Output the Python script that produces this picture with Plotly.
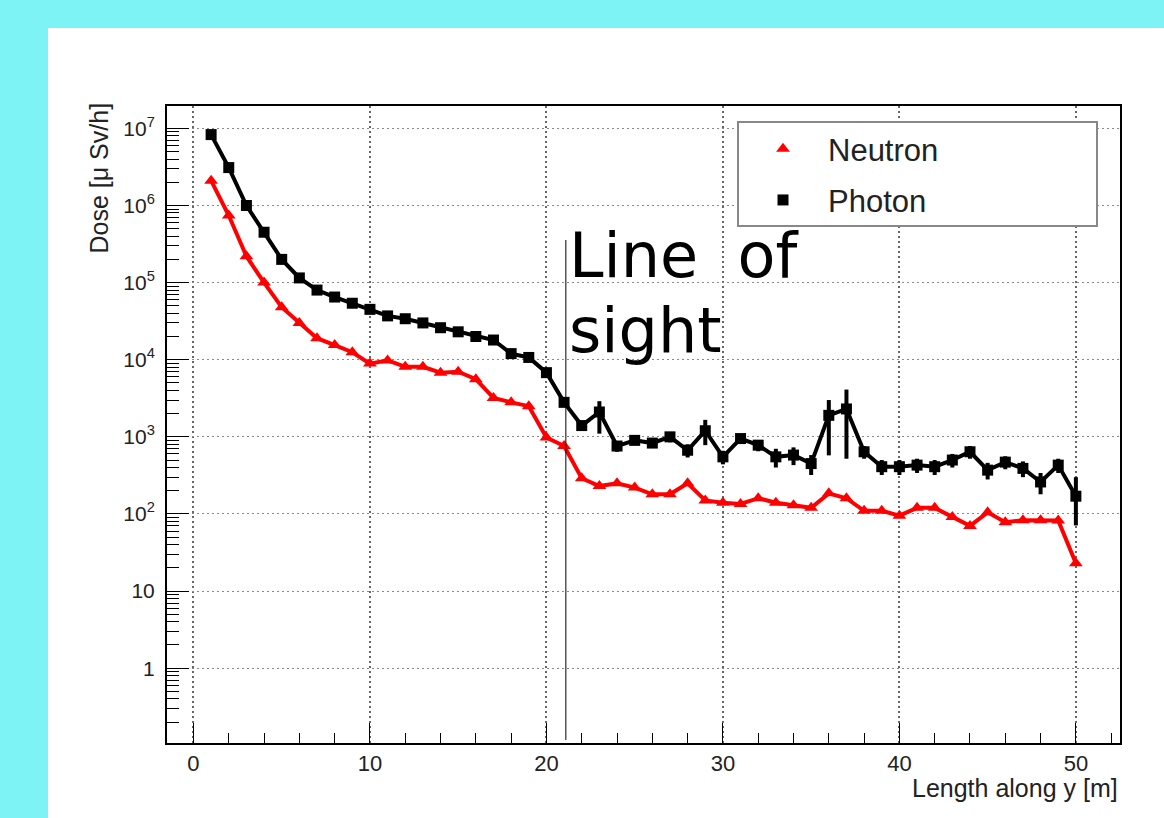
import plotly.graph_objects as go

# ---------------- data ----------------
length_m = list(range(1, 51))

neutron_dose = [2.1e6, 7.4e5, 2.2e5, 1.0e5, 4.8e4, 3.0e4, 1.9e4, 1.55e4, 1.25e4, 8.9e3,
                9.8e3, 8.1e3, 8.1e3, 6.8e3, 7.0e3, 5.6e3, 3.2e3, 2.8e3, 2.5e3, 9.8e2,
                7.6e2, 2.9e2, 2.3e2, 2.5e2, 2.2e2, 1.8e2, 1.8e2, 2.5e2, 1.5e2, 1.4e2,
                1.35e2, 1.6e2, 1.4e2, 1.3e2, 1.2e2, 1.85e2, 1.6e2, 1.1e2, 1.1e2, 9.5e1,
                1.2e2, 1.2e2, 9.1e1, 7.0e1, 1.05e2, 7.8e1, 8.3e1, 8.3e1, 8.2e1, 2.3e1]

photon_dose = [8.3e6, 3.1e6, 1.0e6, 4.5e5, 2.0e5, 1.15e5, 8.0e4, 6.5e4, 5.4e4, 4.5e4,
               3.7e4, 3.4e4, 3.0e4, 2.6e4, 2.3e4, 2.0e4, 1.8e4, 1.2e4, 1.07e4, 6.8e3,
               2.8e3, 1.4e3, 2.1e3, 7.6e2, 9.0e2, 8.3e2, 1.0e3, 6.7e2, 1.2e3, 5.5e2,
               9.5e2, 7.8e2, 5.5e2, 5.8e2, 4.5e2, 1.9e3, 2.3e3, 6.4e2, 4.1e2, 4.1e2,
               4.3e2, 4.1e2, 5.0e2, 6.4e2, 3.7e2, 4.7e2, 3.9e2, 2.6e2, 4.3e2, 1.7e2]

photon_err_up = [0] * 21 + [200, 800, 120, 100, 100, 150, 130, 460, 110, 130, 130, 150,
                            150, 130, 1100, 1800, 120, 90, 90, 90, 90, 100, 120, 90, 90,
                            90, 80, 90, 130]
photon_err_down = [0] * 21 + [200, 1000, 120, 100, 100, 150, 130, 420, 110, 130, 130, 150,
                              150, 130, 1325, 1780, 120, 90, 90, 90, 90, 100, 120, 90, 90,
                              90, 80, 90, 99]

x_tick_vals = [0, 10, 20, 30, 40, 50]
y_tick_vals = [1, 10, 1e2, 1e3, 1e4, 1e5, 1e6, 1e7]
y_tick_text = ["1", "10", "10<sup>2</sup>", "10<sup>3</sup>", "10<sup>4</sup>",
               "10<sup>5</sup>", "10<sup>6</sup>", "10<sup>7</sup>"]
y_minor_vals = [m * 10 ** e for e in range(-1, 8) for m in range(2, 10)]

line_of_sight_x = 21.1

# ---------------- figure ----------------
W, H = 1164, 818
ML, MR, MT, MB = 167, 44, 106, 75
PW, PH = W - ML - MR, H - MT - MB


def px_x(p):
    return (p - ML) / PW


def px_y(p):
    return (H - MB - p) / PH


fig = go.Figure()

fig.add_trace(go.Scatter(
    x=length_m, y=photon_dose, mode="lines+markers", showlegend=False,
    line=dict(color="black", width=4),
    marker=dict(symbol="square", size=11, color="black"),
    error_y=dict(type="data", array=photon_err_up, arrayminus=photon_err_down,
                 symmetric=False, color="black", thickness=4, width=0),
))
fig.add_trace(go.Scatter(
    x=length_m, y=neutron_dose, mode="lines+markers", showlegend=False,
    line=dict(color="#ff0000", width=4),
    marker=dict(symbol="triangle-up", size=12, color="#ff0000"),
))

# legend entries (markers only, like the ROOT legend)
fig.add_trace(go.Scatter(x=[None], y=[None], mode="markers", name="Neutron",
                         legendgroup="n",
                         marker=dict(symbol="triangle-up", size=12, color="#ff0000")))
fig.add_trace(go.Scatter(x=[None], y=[None], mode="markers", name="Photon",
                         legendgroup="p",
                         marker=dict(symbol="square", size=11, color="black")))

shapes = [
    # white page panel
    dict(type="rect", xref="paper", yref="paper", layer="below",
         x0=px_x(48), x1=px_x(W + 5), y0=px_y(H + 5), y1=px_y(28),
         fillcolor="white", line=dict(width=0)),
    # legend box
    dict(type="rect", xref="paper", yref="paper", layer="above",
         x0=px_x(738), x1=px_x(1097), y0=px_y(226), y1=px_y(122),
         fillcolor="white", line=dict(color="#888888", width=2)),
    # line of sight
    dict(type="line", xref="x", yref="paper", layer="above",
         x0=line_of_sight_x, x1=line_of_sight_x, y0=px_y(740), y1=px_y(240),
         line=dict(color="black", width=1)),
]

annotations = [
    dict(text="Line\u00a0\u00a0of", xref="paper", yref="paper",
         x=px_x(567), y=px_y(255), xanchor="left", yanchor="middle", showarrow=False,
         font=dict(family="DejaVu Sans", size=62, color="black")),
    dict(text="sight", xref="paper", yref="paper",
         x=px_x(567), y=px_y(330), xanchor="left", yanchor="middle", showarrow=False,
         font=dict(family="DejaVu Sans", size=62, color="black")),
    dict(text="Length along y [m]", xref="paper", yref="paper",
         x=px_x(1120), y=px_y(788), xanchor="right", yanchor="middle", showarrow=False,
         font=dict(family="Liberation Sans", size=25, color="#222222")),
    dict(text="Dose [\u03bc Sv/h]", xref="paper", yref="paper", textangle=-90,
         x=px_x(98), y=px_y(101), xanchor="center", yanchor="top", showarrow=False,
         font=dict(family="Liberation Sans", size=25, color="#222222")),
]

fig.update_layout(
    width=W, height=H,
    margin=dict(l=ML, r=MR, t=MT, b=MB),
    paper_bgcolor="#7df3f5",
    plot_bgcolor="white",
    font=dict(family="Liberation Sans", color="#222222"),
    shapes=shapes,
    annotations=annotations,
    legend=dict(x=px_x(738), y=px_y(122), xanchor="left", yanchor="top",
                bgcolor="rgba(0,0,0,0)", borderwidth=0,
                font=dict(family="Liberation Sans", size=31, color="#222222"),
                itemwidth=80, tracegroupgap=8),
    xaxis=dict(range=[-1.5, 52.5], tickvals=x_tick_vals,
               showgrid=True, gridcolor="#666666", griddash="2px,3px", gridwidth=1.5,
               zeroline=False,
               showline=True, linecolor="black", linewidth=2, mirror=True,
               ticks="inside", ticklen=20, tickwidth=1, tickcolor="black",
               minor=dict(dtick=2, ticks="inside", ticklen=10, tickcolor="black",
                          showgrid=False),
               tickfont=dict(family="Liberation Sans", size=22, color="#222222")),
    yaxis=dict(type="log", range=[-0.97, 7.29], tickvals=y_tick_vals, ticktext=y_tick_text,
               showgrid=True, gridcolor="#8a8a8a", griddash="2px,3px", gridwidth=1,
               zeroline=False,
               showline=True, linecolor="black", linewidth=2, mirror=True,
               ticks="inside", ticklen=22, tickwidth=1, tickcolor="black",
               minor=dict(tickvals=y_minor_vals, ticks="inside", ticklen=12,
                          tickcolor="black", showgrid=False),
               ticklabelstandoff=6,
               tickfont=dict(family="Liberation Sans", size=21, color="#222222")),
)

fig.write_html("out.html",
               config={"displayModeBar": False},
               post_script="document.body.style.margin='0px';"
                           "document.body.style.overflow='hidden';")
